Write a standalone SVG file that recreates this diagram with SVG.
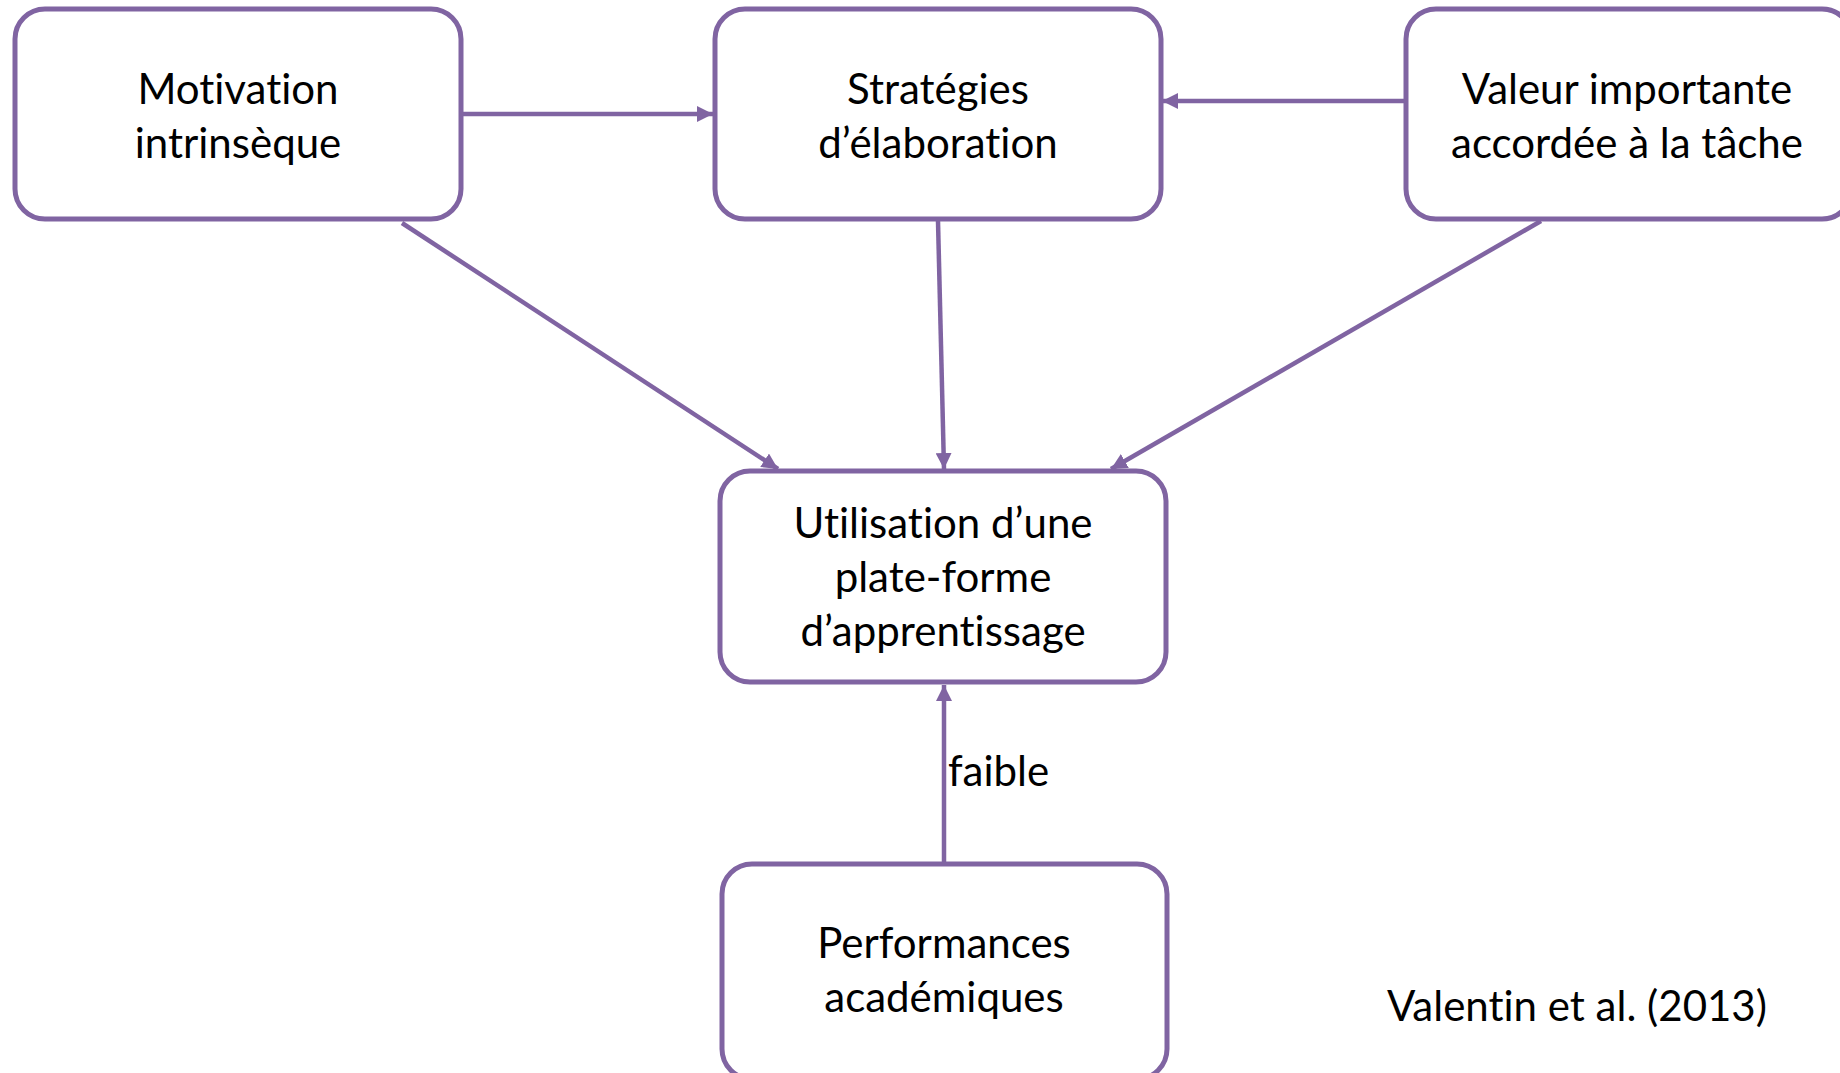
<svg xmlns="http://www.w3.org/2000/svg" width="1840" height="1073" viewBox="0 0 1840 1073">
<style>
.box{fill:#fff;stroke:#8064A2;stroke-width:5}
.t{font-family:Lato,"Liberation Sans",sans-serif;font-size:42px;fill:#000;text-anchor:middle;font-variant-ligatures:none;font-feature-settings:"liga" 0}
.c{stroke:#8064A2;stroke-width:4.5;fill:none;marker-end:url(#ah)}
</style>
<defs>
<marker id="ah" markerUnits="userSpaceOnUse" markerWidth="18" markerHeight="16" refX="16" refY="8" orient="auto">
<path d="M0,0 L16,8 L0,16 Z" fill="#8064A2"/>
</marker>
</defs>
<rect width="1840" height="1073" fill="#fff"/>
<g id="connectors">
<line class="c" x1="461" y1="114" x2="713" y2="114"/>
<line class="c" x1="1407" y1="101" x2="1162" y2="101"/>
<line class="c" x1="402" y1="223" x2="778" y2="469"/>
<line class="c" x1="938" y1="221" x2="944" y2="469"/>
<line class="c" x1="1541" y1="221" x2="1111" y2="469"/>
<line class="c" x1="944" y1="864" x2="944" y2="685"/>
</g>
<g id="motivation">
<rect class="box" x="15" y="9" width="446" height="210" rx="30"/>
<text class="t" x="238" y="104">Motivation</text>
<text class="t" x="238" y="158">intrinsèque</text>
</g>
<g id="strategies">
<rect class="box" x="715" y="9" width="446" height="210" rx="30"/>
<text class="t" x="938" y="104">Stratégies</text>
<text class="t" x="938" y="158">d’élaboration</text>
</g>
<g id="valeur">
<rect class="box" x="1406" y="9" width="446" height="210" rx="30"/>
<text class="t" x="1627" y="104">Valeur importante</text>
<text class="t" x="1627" y="158">accordée à la tâche</text>
</g>
<g id="utilisation">
<rect class="box" x="720" y="471" width="446" height="211" rx="30"/>
<text class="t" x="943" y="538">Utilisation d’une</text>
<text class="t" x="943" y="592">plate-forme</text>
<text class="t" x="943" y="646">d’apprentissage</text>
</g>
<g id="performances">
<rect class="box" x="722" y="864" width="445" height="215" rx="30"/>
<text class="t" x="944" y="958">Performances</text>
<text class="t" x="944" y="1012">académiques</text>
</g>
<g id="labels">
<text class="t" x="948" y="786" style="text-anchor:start">faible</text>
<text class="t" x="1387" y="1021" style="text-anchor:start">Valentin et al. (2013)</text>
</g>
</svg>
